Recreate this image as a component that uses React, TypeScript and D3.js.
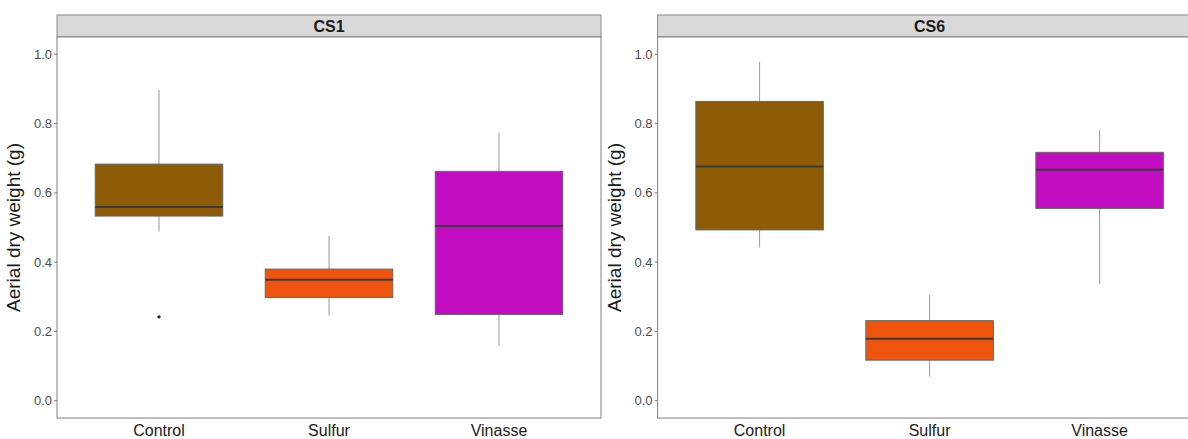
import React from "react";
import * as d3 from "d3";

// Treatments (x categories) and facets
const treatments = ["Control", "Sulfur", "Vinasse"];
const sites = ["CS1", "CS6"];
const fillColors = ["#8E5B07", "#EE540E", "#C20CC2"];
const yTicks = [0, 0.2, 0.4, 0.6, 0.8, 1.0];
const yTitle = "Aerial dry weight (g)";

// Box statistics per site, one value per treatment
const cs1Lower = [0.488, 0.245, 0.158];
const cs1Q1 = [0.533, 0.298, 0.249];
const cs1Median = [0.559, 0.349, 0.504];
const cs1Q3 = [0.683, 0.380, 0.662];
const cs1Upper = [0.897, 0.476, 0.774];
const cs1Outliers = [[0.242], [], []];

const cs6Lower = [0.442, 0.069, 0.336];
const cs6Q1 = [0.493, 0.117, 0.555];
const cs6Median = [0.676, 0.179, 0.667];
const cs6Q3 = [0.864, 0.231, 0.717];
const cs6Upper = [0.978, 0.305, 0.781];
const cs6Outliers = [[], [], []];

const W = 1188;
const H = 439;
const panelTop = 37;
const panelBottom = 418;
const stripTop = 15;
const panelWidth = 544;
const panelLefts = [57, 657.6];

const boxStats = [
  { lower: cs1Lower, q1: cs1Q1, median: cs1Median, q3: cs1Q3, upper: cs1Upper, outliers: cs1Outliers },
  { lower: cs6Lower, q1: cs6Q1, median: cs6Median, q3: cs6Q3, upper: cs6Upper, outliers: cs6Outliers },
];

const font = "'Liberation Sans', Arial, sans-serif";

function Panel({ site, index }: { site: string; index: number }) {
  const x0 = panelLefts[index];
  const x = d3.scalePoint<string>().domain(treatments).range([x0, x0 + panelWidth]).padding(0.6);
  const y = d3.scaleLinear().domain([-0.05, 1.05]).range([panelBottom, panelTop]);
  const bw = x.step() * 0.75;
  const s = boxStats[index];
  const fmt = d3.format(".1f");
  return (
    <g>
      {/* strip */}
      <rect x={x0} y={stripTop} width={panelWidth} height={panelTop - stripTop}
        fill="#D9D9D9" stroke="#8a8a8a" strokeWidth={1} />
      <text x={x0 + panelWidth / 2} y={(stripTop + panelTop) / 2 + 6} textAnchor="middle"
        fontFamily={font} fontWeight="bold" fontSize={16} fill="#1a1a1a">{site}</text>
      {/* panel */}
      <rect x={x0} y={panelTop} width={panelWidth} height={panelBottom - panelTop}
        fill="white" stroke="#7f7f7f" strokeWidth={1} />
      {/* y axis */}
      {yTicks.map((t) => (
        <g key={t}>
          <line x1={x0 - 3} x2={x0} y1={y(t)} y2={y(t)} stroke="#7f7f7f" />
          <text x={x0 - 5} y={y(t) + 4.5} textAnchor="end" fontFamily={font} fontSize={13} fill="#4D4D4D">{fmt(t)}</text>
        </g>
      ))}
      <text transform={`translate(${x0 - 37},${(panelTop + panelBottom) / 2}) rotate(-90)`}
        textAnchor="middle" fontFamily={font} fontSize={19} fill="#1a1a1a">{yTitle}</text>
      {/* x axis labels */}
      {treatments.map((t) => (
        <text key={t} x={x(t)} y={436} textAnchor="middle" fontFamily={font} fontSize={16} fill="#1a1a1a">{t}</text>
      ))}
      {/* boxes */}
      {treatments.map((t, i) => {
        const cx = x(t)!;
        return (
          <g key={t}>
            <line x1={cx} x2={cx} y1={y(s.upper[i])} y2={y(s.q3[i])} stroke="#999" strokeWidth={1} />
            <line x1={cx} x2={cx} y1={y(s.q1[i])} y2={y(s.lower[i])} stroke="#999" strokeWidth={1} />
            <rect x={cx - bw / 2} y={y(s.q3[i])} width={bw} height={y(s.q1[i]) - y(s.q3[i])}
              fill={fillColors[i]} stroke="#666" strokeWidth={1} />
            <line x1={cx - bw / 2} x2={cx + bw / 2} y1={y(s.median[i])} y2={y(s.median[i])}
              stroke="#3a3a3a" strokeWidth={2} />
            {s.outliers[i].map((o, k) => (
              <circle key={k} cx={cx} cy={y(o)} r={1.7} fill="#222" />
            ))}
          </g>
        );
      })}
    </g>
  );
}

export default function App() {
  return (
    <svg width={W} height={H} style={{ position: "absolute", left: 0, top: 0, background: "white" }}>
      <rect x={0} y={0} width={W} height={H} fill="white" />
      {sites.map((s, i) => (
        <Panel key={s} site={s} index={i} />
      ))}
    </svg>
  );
}
